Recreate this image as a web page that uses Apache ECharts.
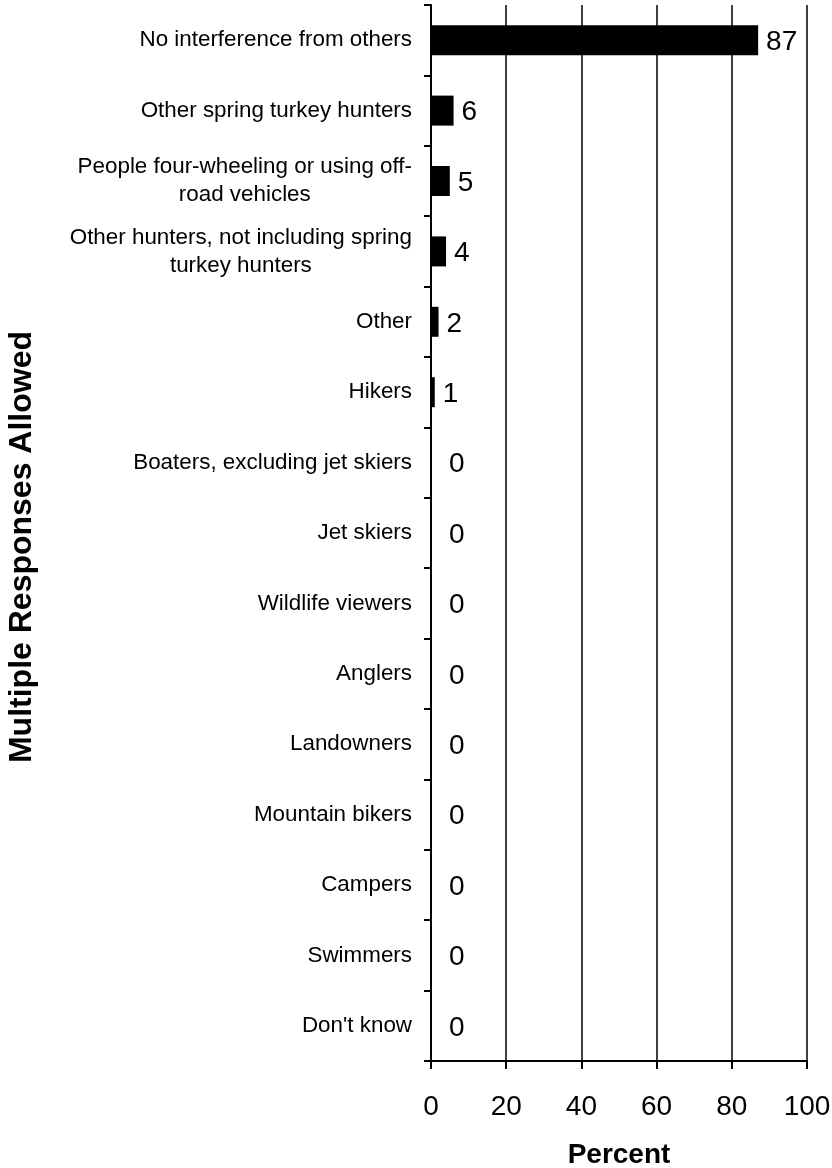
<!DOCTYPE html>
<html>
<head>
<meta charset="utf-8">
<script src="https://cdn.jsdelivr.net/npm/echarts@6/dist/echarts.min.js"></script>
<style>
html, body { margin: 0; padding: 0; background: #fff; }
#pageEcharts { width: 832px; height: 1168px; }
</style>
</head>
<body>
<div id="pageEcharts"></div>
<script>
var categories = [
    'No interference from others',
    'Other spring turkey hunters',
    'People four-wheeling or using off-\nroad vehicles',
    'Other hunters, not including spring\nturkey hunters',
    'Other',
    'Hikers',
    'Boaters, excluding jet skiers',
    'Jet skiers',
    'Wildlife viewers',
    'Anglers',
    'Landowners',
    'Mountain bikers',
    'Campers',
    'Swimmers',
    "Don't know"
];
var values = [87, 6, 5, 4, 2, 1, 0, 0, 0, 0, 0, 0, 0, 0, 0];
var xTicks = [0, 20, 40, 60, 80, 100];

var font = 'Liberation Sans, Arial, sans-serif';

var myChart = echarts.init(document.getElementById("pageEcharts"));
var option = {
    animation: false,
    grid: {
        left: 431,
        right: 25,
        top: 5,
        bottom: 107,
        containLabel: false,
        outerBoundsMode: 'none'
    },
    graphic: [{
        type: 'text',
        x: 22,
        y: 547,
        rotation: Math.PI / 2,
        style: {
            text: 'Multiple Responses Allowed',
            font: 'bold 32px ' + font,
            fill: '#000',
            align: 'center',
            verticalAlign: 'middle'
        }
    }],
    xAxis: {
        type: 'value',
        min: xTicks[0],
        max: xTicks[xTicks.length - 1],
        interval: 20,
        name: 'Percent',
        nameLocation: 'middle',
        nameGap: 80,
        nameTextStyle: {
            color: '#000',
            fontSize: 28,
            fontWeight: 'bold',
            fontFamily: font
        },
        axisLine: { show: true, lineStyle: { color: '#000', width: 2 } },
        axisTick: { show: true, length: 8, lineStyle: { color: '#000', width: 2 } },
        axisLabel: {
            color: '#000',
            fontSize: 28,
            fontFamily: font,
            margin: 32
        },
        splitLine: { show: true, lineStyle: { color: '#000', width: 1.5 } }
    },
    yAxis: {
        type: 'category',
        inverse: true,
        data: categories,
        axisLine: { show: true, lineStyle: { color: '#000', width: 2 } },
        axisTick: { show: true, length: 7, lineStyle: { color: '#000', width: 2 } },
        axisLabel: {
            margin: 19,
            interval: 0,
            formatter: function (v) {
                return v.split('\n').map(function (s) { return '{c|' + s + '}'; }).join('\n');
            },
            rich: {
                c: {
                    align: 'center',
                    color: '#000',
                    fontSize: 22.4,
                    fontFamily: font,
                    lineHeight: 28
                }
            }
        },
        splitLine: { show: false }
    },
    series: [{
        type: 'bar',
        barWidth: 30,
        itemStyle: { color: '#000' },
        label: {
            show: true,
            position: 'right',
            distance: 8,
            offset: [0, 2],
            color: '#000',
            fontSize: 28,
            fontFamily: font
        },
        data: values.map(function (v) {
            return v === 0 ? { value: v, label: { distance: 18 } } : v;
        })
    }]
};
myChart.setOption(option);
</script>
</body>
</html>
